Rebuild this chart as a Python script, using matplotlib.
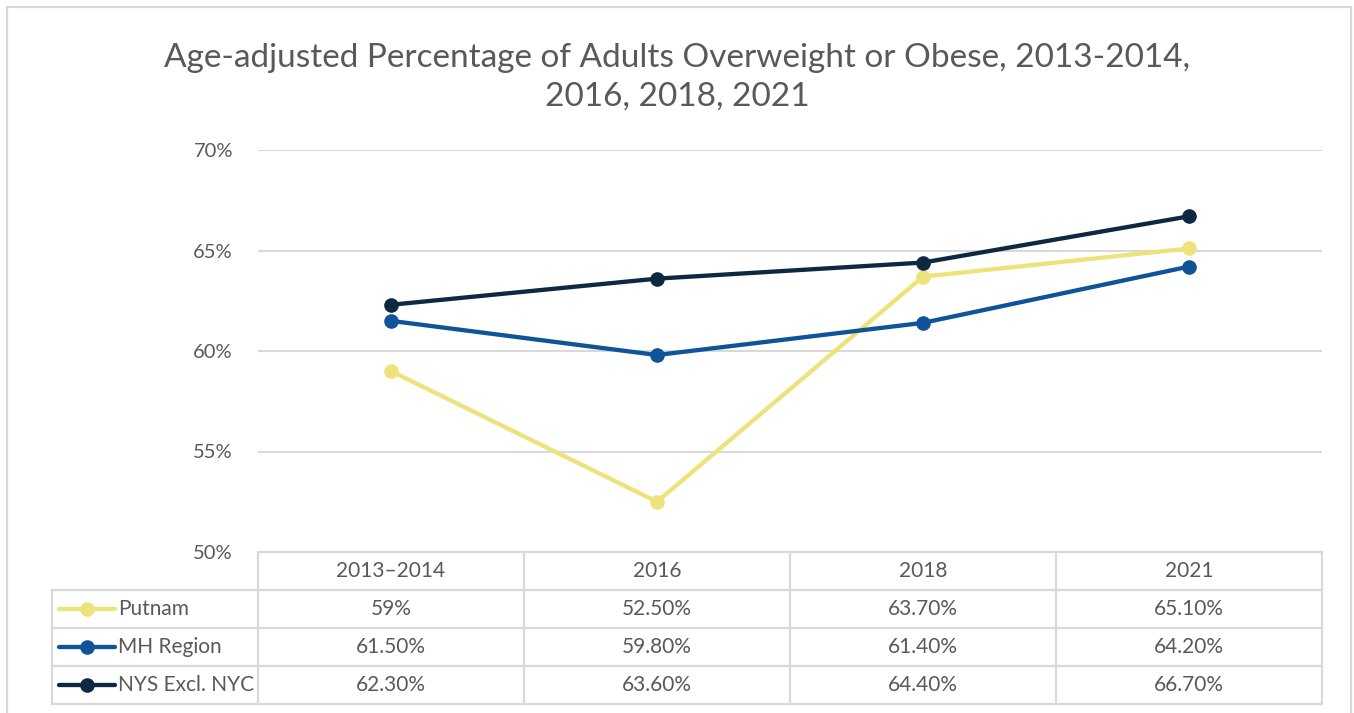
import numpy as np
import matplotlib
import matplotlib.pyplot as plt
from matplotlib.lines import Line2D
from matplotlib.patches import Rectangle

matplotlib.use("Agg")
plt.rcParams['font.family'] = ['Lato', 'DejaVu Sans']

# data
categories = ["2013\u20132014", "2016", "2018", "2021"]
putnam = [59.0, 52.5, 63.7, 65.1]
mh_region = [61.5, 59.8, 61.4, 64.2]
nys_excl_nyc = [62.3, 63.6, 64.4, 66.7]
putnam_labels = ["59%", "52.50%", "63.70%", "65.10%"]
mh_labels = ["61.50%", "59.80%", "61.40%", "64.20%"]
nys_labels = ["62.30%", "63.60%", "64.40%", "66.70%"]
series_names = ["Putnam", "MH Region", "NYS Excl. NYC"]
yticks = [50, 55, 60, 65, 70]

colors = ["#ECE37B", "#0F5499", "#0E2841"]
text_col = "#595959"
grid_col = "#D9D9D9"

W, H = 1354, 713
fig = plt.figure(figsize=(W / 100, H / 100), dpi=100)


def px_axes(x0, y0, x1, y1):
    return fig.add_axes([x0 / W, 1 - y1 / H, (x1 - x0) / W, (y1 - y0) / H])


# outer frame
fig.patches.append(Rectangle((7 / W, -0.05), (1351 - 7) / W, 1 - 7 / H + 0.05,
                             transform=fig.transFigure, fill=False,
                             edgecolor=grid_col, lw=1.6))

fig.text(677 / W, 1 - 77 / H, "Age-adjusted Percentage of Adults Overweight or Obese, 2013-2014,\n2016, 2018, 2021",
         ha="center", va="center", fontsize=24, color=text_col, linespacing=1.35)

# line chart
ax = px_axes(258, 150, 1322, 552)
x = np.arange(len(categories))
for vals, c in zip([putnam, mh_region, nys_excl_nyc], colors):
    ax.plot(x, vals, color=c, lw=3.1, marker="o", ms=9.5, solid_capstyle="round", zorder=3)
ax.set_xlim(-0.5, len(categories) - 0.5)
ax.set_ylim(50, 70)
ax.set_yticks(yticks)
ax.set_yticklabels([f"{t}%" for t in yticks])
ax.set_xticks([])
ax.grid(axis="y", color=grid_col, lw=1.5)
ax.set_axisbelow(True)
for s in ax.spines.values():
    s.set_visible(False)
ax.tick_params(axis="y", length=0, pad=18, labelsize=14.5, labelcolor=text_col)

# data table below the chart
tab = px_axes(52, 552, 1322, 704)
lab_w = (258 - 52) / ((1322 - 258) / len(categories))
x_left = -0.5 - lab_w
x_right = len(categories) - 0.5
n_rows = len(series_names) + 1
tab.set_xlim(x_left, x_right)
tab.set_ylim(n_rows, 0)
tab.axis("off")
lk = dict(color=grid_col, lw=1.6, clip_on=False)
tab.plot([-0.5, x_right], [0, 0], **lk)
for r in range(1, n_rows + 1):
    tab.plot([x_left, x_right], [r, r], **lk)
tab.plot([x_left, x_left], [1, n_rows], **lk)
for i in range(len(categories) + 1):
    tab.plot([i - 0.5, i - 0.5], [0, n_rows], **lk)
for i, cat in enumerate(categories):
    tab.text(i, 0.5, cat, ha="center", va="center", fontsize=15, color=text_col)
rows = [putnam_labels, mh_labels, nys_labels]
for r, (name, labels, c) in enumerate(zip(series_names, rows, colors)):
    yy = r + 1.5
    key_x0 = x_left + 0.025
    key_x1 = x_left + 0.235
    tab.add_line(Line2D([key_x0, key_x1], [yy, yy], color=c, lw=3.1, solid_capstyle="round"))
    tab.plot([(key_x0 + key_x1) / 2], [yy], marker="o", ms=9.5, color=c)
    tab.text(key_x1 + 0.015, yy, name, ha="left", va="center", fontsize=15, color=text_col)
    for i, lab in enumerate(labels):
        tab.text(i, yy, lab, ha="center", va="center", fontsize=15, color=text_col)

fig.savefig("out.png", dpi=100)
